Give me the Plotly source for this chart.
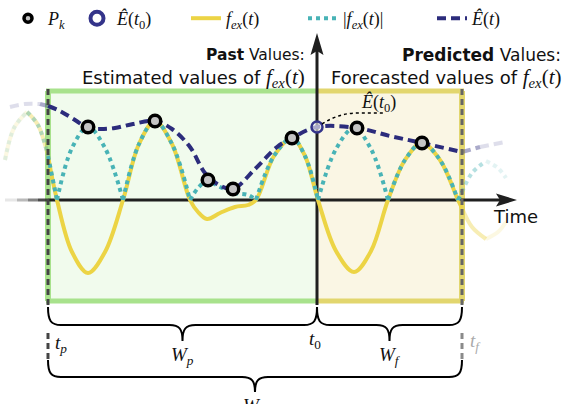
import plotly.graph_objects as go

# ---------------- data (time axis: t0 = 0, one unit = one screen pixel) ----------------
# f_ex(t): signal control points
F_T = [-312, -303, -290, -279, -269, -260, -245, -229, -212, -194, -178, -162, -145, -127,
       -119, -110, -97, -82, -69, -61, -43, -25, -12, 1, 19, 37, 54, 71, 88, 105, 123, 141,
       145, 155, 169, 181, 189]
F_V = [40, 72, 88, 75, 44, 0, -52, -73, -52, 0, 56, 79, 56, 0,
       -12, -19, -13, -7, -5, 0, 44, 62, 44, 0, -51, -72, -51, 0, 40, 57, 40, 0,
       -8, -27, -39, -32, -22]
# Ê(t): envelope estimate
E_T = [-307, -292, -277, -269, -257, -242, -229, -217, -202, -184, -162, -145, -127, -112,
       -98, -84, -62, -40, -25, 0, 40, 73, 105, 145, 163, 188]
E_V = [93, 96, 96, 94, 89, 80, 72, 71, 72, 76, 79, 71, 53, 27,
       15, 11, 31, 53, 62, 73, 72, 64, 57, 48, 53, 58]
# P_k: peak points
PK_T = [-229, -162, -109, -84, -25, 40, 105]
PK_V = [73, 79, 20, 11, 62, 72, 57]
# Ê(t0)
E0_T = [0]
E0_V = [73]
# window bounds
T_P, T_0, T_F = -269, 0, 145
WIN_TOP, WIN_BOT = 109, -101
LEGEND_NAMES = ["<i>P</i><sub><i>k</i></sub>", "<i>Ê</i>(<i>t</i><sub>0</sub>)",
                "<i>f</i><sub><i>ex</i></sub>(<i>t</i>)", "|<i>f</i><sub><i>ex</i></sub>(<i>t</i>)|",
                "<i>Ê</i>(<i>t</i>)"]

# ---------------- style ----------------
YELLOW = "#ecd445"
CYAN = "#48b3b6"
NAVY = "#2c2c7c"
RING = "#34348a"
GREEN_FILL = "#f1fbed"
GREEN_LINE = "#a8e28c"
YEL_FILL = "#faf6e4"
YEL_LINE = "#e2d66e"
AX = "#1f1f1f"
SANS = "DejaVu Sans"
SERIF = "Liberation Serif"
E_DASH = "9px,5px"

W, H = 563, 404
X0 = -317
Y0 = -204


def select(ts, vs, lo, hi):
    xs, ys = [], []
    for t, v in zip(ts, vs):
        if lo <= t <= hi:
            xs.append(t)
            ys.append(v)
    return xs, ys


def arches(ts, vs):
    xs, ys = [], []
    n = len(ts)
    for i, (t, v) in enumerate(zip(ts, vs)):
        xs.append(t)
        ys.append(abs(v))
        if v == 0 and 0 < i < n - 1:
            xs.append(None)
            ys.append(None)
            xs.append(t)
            ys.append(0)
    return xs, ys


def split_fade(xs, ys, left):
    k = len(xs) // 2
    if left:
        return (xs[:k + 1], ys[:k + 1]), (xs[k:], ys[k:])  # far, near
    return (xs[k:], ys[k:]), (xs[:k + 1], ys[:k + 1])


fig = go.Figure()


def add_curve(xs, ys, color, dash, opacity, absval=False):
    if absval:
        xs, ys = arches(xs, ys)
    fig.add_trace(go.Scatter(x=xs, y=ys, mode="lines", showlegend=False, hoverinfo="skip",
                             opacity=opacity,
                             line=dict(color=color, width=4, dash=dash, shape="spline", smoothing=1.0)))


def add_series(ts, vs, color, dash, absval=False):
    main = select(ts, vs, T_P, T_F)
    lf = select(ts, vs, -1e9, T_P)
    rf = select(ts, vs, T_F, 1e9)
    for (xs, ys), op in zip(split_fade(*lf, True), (0.15, 0.4)):
        add_curve(xs, ys, color, dash, op, absval)
    for (xs, ys), op in zip(split_fade(*rf, False), (0.15, 0.4)):
        add_curve(xs, ys, color, dash, op, absval)
    add_curve(main[0], main[1], color, dash, 1.0, absval)


add_series(F_T, F_V, YELLOW, "solid")
add_series(F_T, F_V, CYAN, "4px,4px", absval=True)
add_series(E_T, E_V, NAVY, E_DASH)

fig.add_trace(go.Scatter(x=PK_T, y=PK_V, mode="markers", showlegend=False, hoverinfo="skip",
                         marker=dict(size=11.5, color="#c4c4c4", line=dict(color="black", width=3.5))))
fig.add_trace(go.Scatter(x=E0_T, y=E0_V, mode="markers", showlegend=False, hoverinfo="skip",
                         marker=dict(size=11, color="rgba(255,255,255,0.6)", line=dict(color=RING, width=2.5))))

# legend entries: one legend per entry so each can sit where the reference puts it
LEG_LEFT = [8, 77, 186, 303, 432]
legend_styles = [
    dict(mode="markers", marker=dict(size=8, color="#c4c4c4", line=dict(color="black", width=3.5))),
    dict(mode="markers", marker=dict(size=13, color="white", line=dict(color=RING, width=4))),
    dict(mode="lines", line=dict(color=YELLOW, width=4)),
    dict(mode="lines", line=dict(color=CYAN, width=4, dash="4px,4px")),
    dict(mode="lines", line=dict(color=NAVY, width=4, dash=E_DASH)),
]
legend_layouts = {}
for i, (name, st) in enumerate(zip(LEGEND_NAMES, legend_styles)):
    key = "legend" if i == 0 else f"legend{i + 1}"
    fig.add_trace(go.Scatter(x=[None], y=[None], name=name, legend=key, showlegend=True, **st))
    legend_layouts[key] = dict(orientation="h", x=LEG_LEFT[i] / W, y=1,
                               xanchor="left", yanchor="top", bgcolor="rgba(0,0,0,0)",
                               font=dict(family=SERIF, size=18, color="#111111"),
                               itemsizing="trace")

shapes = []


def line(x0, y0, x1, y1, color, width, dash="solid", layer="below", opacity=1):
    shapes.append(dict(type="line", x0=x0, y0=y0, x1=x1, y1=y1, layer=layer, opacity=opacity,
                       line=dict(color=color, width=width, dash=dash)))


# windows
shapes.append(dict(type="rect", x0=T_P, x1=T_0, y0=WIN_BOT, y1=WIN_TOP, layer="below",
                   fillcolor=GREEN_FILL, line=dict(width=0)))
shapes.append(dict(type="rect", x0=T_0, x1=T_F, y0=WIN_BOT, y1=WIN_TOP, layer="below",
                   fillcolor=YEL_FILL, line=dict(width=0)))
line(T_P - 2, WIN_TOP, T_0, WIN_TOP, GREEN_LINE, 5)
line(T_P - 2, WIN_BOT, T_0, WIN_BOT, GREEN_LINE, 5)
line(T_0, WIN_TOP, T_F + 2, WIN_TOP, YEL_LINE, 5)
line(T_0, WIN_BOT, T_F + 2, WIN_BOT, YEL_LINE, 5)
line(T_P, WIN_BOT, T_P, WIN_TOP, GREEN_LINE, 6)
line(T_F, WIN_BOT, T_F, WIN_TOP, YEL_LINE, 6)
line(T_P, WIN_TOP + 2, T_P, -107, "#444444", 3, "6px,4px", "above")
line(T_F, WIN_TOP + 2, T_F, -107, "#666666", 3, "6px,4px", "above")
line(T_P, -133, T_P, -160, "#444444", 3, "6px,4px", "above")
line(T_F, -133, T_F, -160, "#8a8a8a", 3, "6px,4px", "above")

# time axis (faded at the left)
fade_x = [-312, -300, -289, -279, -269]
for i, op in enumerate([0.1, 0.3, 0.55, 0.8]):
    line(fade_x[i], 0, fade_x[i + 1], 0, AX, 3, opacity=op)
line(T_P, 0, 183, 0, AX, 3)
shapes.append(dict(type="path", path="M 179,6.5 L 200,0 L 179,-6.5 L 183,0 Z", layer="below",
                   fillcolor=AX, line=dict(width=0)))
# vertical axis at t0
line(T_0, -105, T_0, 150, AX, 3)
shapes.append(dict(type="path", path="M -6.5,145 L 0,167 L 6.5,145 L 0,149 Z", layer="below",
                   fillcolor=AX, line=dict(width=0)))
# connector to Ê(t0) label
shapes.append(dict(type="path", path="M 5,76 Q 22,87 40,87 L 68,87", layer="above",
                   line=dict(color="black", width=1.5, dash="dot")))


def brace(x1, x2, y0, y1, y2, a=13):
    xm = (x1 + x2) / 2
    return (f"M {x1},{y0} C {x1},{y1 + 4} {x1 + 3},{y1} {x1 + a},{y1} "
            f"L {xm - a},{y1} C {xm - 3},{y1} {xm},{y1 - 4} {xm},{y2} "
            f"C {xm},{y1 - 4} {xm + 3},{y1} {xm + a},{y1} "
            f"L {x2 - a},{y1} C {x2 - 3},{y1} {x2},{y1 + 4} {x2},{y0}")


for x1, x2, y0, y1, y2 in [(T_P, T_0, -107, -125, -141), (T_0, T_F, -107, -125, -141),
                           (T_P, T_F, -160, -177, -192)]:
    shapes.append(dict(type="path", path=brace(x1, x2, y0, y1, y2), layer="above",
                       line=dict(color="black", width=2)))

ann = []


def text(x, y, s, size, family, color="#111111", xanchor="center", yanchor="middle", xshift=0):
    ann.append(dict(x=x, y=y, text=s, showarrow=False, xanchor=xanchor, yanchor=yanchor,
                    xshift=xshift, font=dict(size=size, family=family, color=color)))


MATH_F = (f'<span style="font-family:{SERIF};font-size:21px"><i>f</i><sub><i>ex</i></sub>'
          f'(<i>t</i>)</span>')
text(-10, 145, "<b>Past</b> Values:", 15.5, SANS, xanchor="right")
text(-10, 122, "Estimated values of " + MATH_F, 18, SANS, xanchor="right")
text(243, 145, "<b>Predicted</b> Values:", 17, SANS, xanchor="right", xshift=3)
text(243, 122, "Forecasted values of " + MATH_F, 18, SANS, xanchor="right", xshift=3)
text(198, -16, "Time", 18, SANS)
text(61, 97, "<i>Ê</i>(<i>t</i><sub>0</sub>)", 18, SERIF)
text(T_P + 13, -144, "<i>t</i><sub><i>p</i></sub>", 19, SERIF)
text(-2, -140, "<i>t</i><sub>0</sub>", 19, SERIF)
text(T_F + 13, -142, "<i>t</i><sub><i>f</i></sub>", 19, SERIF, color="#aaaaaa")
text((T_P + T_0) / 2, -142, "<i>W</i><sub><i>p</i></sub>", 19, SERIF, yanchor="top")
text((T_0 + T_F) / 2, -142, "<i>W</i><sub><i>f</i></sub>", 19, SERIF, yanchor="top")
text((T_P + T_F) / 2, -193, "<i>W</i><sub><i>T</i></sub>", 19, SERIF, yanchor="top")

fig.update_layout(
    width=W, height=H, margin=dict(l=0, r=0, t=0, b=0),
    paper_bgcolor="white", plot_bgcolor="white",
    xaxis=dict(range=[X0, X0 + W], visible=False, fixedrange=True),
    yaxis=dict(range=[Y0, Y0 + H], visible=False, fixedrange=True),
    shapes=shapes, annotations=ann,
    **legend_layouts,
)

fig.write_html("out.html", config={"displayModeBar": False},
               post_script="document.body.style.margin='0';")
